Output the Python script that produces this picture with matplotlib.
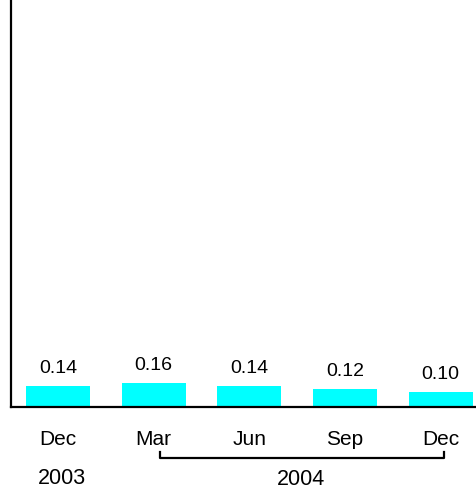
import matplotlib
matplotlib.use("Agg")
import matplotlib.pyplot as plt

plt.rcParams['font.family'] = ['Liberation Sans', 'DejaVu Sans']

months = ["Dec", "Mar", "Jun", "Sep", "Dec"]
values = [0.14, 0.16, 0.14, 0.12, 0.10]
value_labels = ["0.14", "0.16", "0.14", "0.12", "0.10"]
years = ["2003", "2004"]

W, H = 477, 492
AX_H = 407  # axes height in pixels
fig = plt.figure(figsize=(W / 100, H / 100), dpi=100)
ax = fig.add_axes([11 / W, (H - AX_H) / H, 1 - 11 / W, AX_H / H])

x = list(range(len(values)))
ax.bar(x, values, width=0.67, color="#00FFFF", zorder=2)
for xi, v, lab in zip(x, values, value_labels):
    ax.annotate(lab, (xi, v), xytext=(0, 13), textcoords="offset pixels",
                ha="center", va="baseline", fontsize=14)

ax.set_xlim(-0.49, 4.38)
ax.set_ylim(0, 2.71)
ax.set_xticks([])
ax.set_yticks([])
for s in ("top", "right"):
    ax.spines[s].set_visible(False)
for s in ("left", "bottom"):
    ax.spines[s].set_linewidth(1.6)

# Month labels under each bar
trans = ax.get_xaxis_transform()
for xi, m in zip(x, months):
    ax.text(xi, -38 / AX_H, m, transform=trans, ha="center", va="baseline",
            fontsize=15, clip_on=False)

# Year labels with a bracket spanning 2004
ax.text(0.04, -76.5 / AX_H, years[0], transform=trans, ha="center",
        va="baseline", fontsize=15.5, clip_on=False)
ax.text(2.54, -78 / AX_H, years[1], transform=trans, ha="center",
        va="baseline", fontsize=15.5, clip_on=False)
yb = -51 / AX_H
yt = -45 / AX_H
ax.plot([1.065, 1.065, 4.04, 4.04], [yt, yb, yb, yt], transform=trans,
        color="black", linewidth=1.6, clip_on=False)

fig.savefig("out.png", dpi=100)
